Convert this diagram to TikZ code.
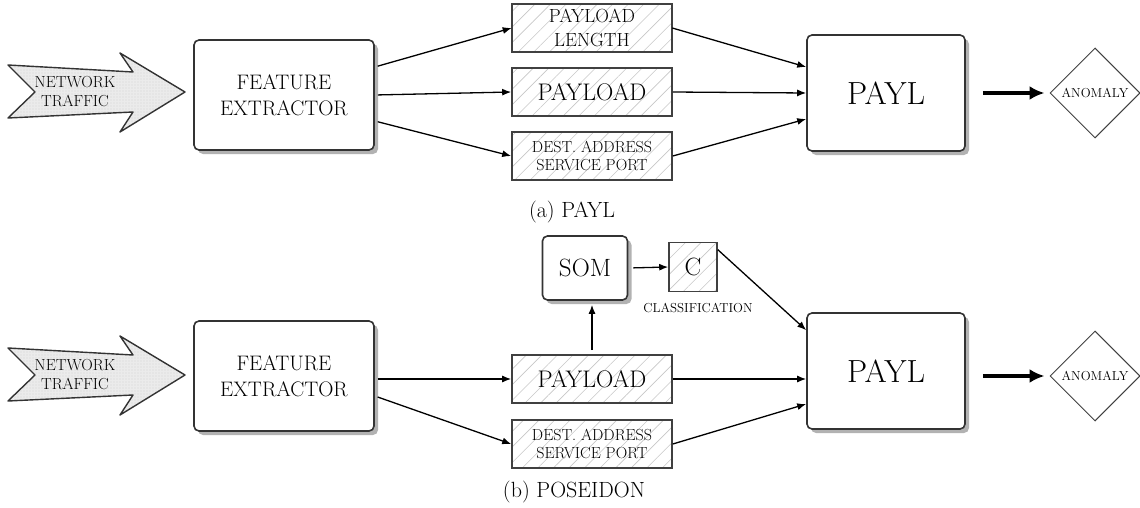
\documentclass[tikz,border=0pt]{standalone}
\usetikzlibrary{arrows.meta,shapes.geometric,shadows,patterns.meta}

\tikzset{
  box/.style={draw=black!80, line width=1.6pt, rounded corners=5pt, fill=white,
    drop shadow={shadow xshift=4pt, shadow yshift=-4pt, fill=black!60},
    align=center, inner sep=0pt},
  featbox/.style={box, minimum width=180pt, minimum height=110pt,
    font=\fontsize{21}{26}\selectfont},
  paylbox/.style={box, minimum width=158pt, minimum height=116pt,
    font=\fontsize{32}{36}\selectfont},
  hatchbox/.style={draw=black!75, line width=1.6pt, align=center, inner sep=0pt,
    pattern={Lines[angle=45,distance=11pt,line width=0.6pt]}, pattern color=black!22,
    minimum width=160pt, minimum height=48pt},
  anomaly/.style={diamond, draw=black!75, line width=1pt, minimum width=90pt,
    minimum height=90pt, inner sep=0pt, font=\fontsize{13}{14}\selectfont},
  traffic/.style={draw=black!80, line width=1.4pt, line join=round,
    preaction={fill=black!8}, pattern={Dots[distance=3pt,radius=0.35pt]},
    pattern color=black!35},
  conn/.style={-{Latex[length=9pt,width=7pt]}, line width=1.3pt},
  bigconn/.style={-{Latex[length=15pt,width=14pt]}, line width=3.2pt},
  caption/.style={font=\fontsize{22}{26}\selectfont}
}

\begin{document}
\begin{tikzpicture}[x=1pt,y=-1pt]
  \useasboundingbox (0,0) rectangle (1140,508);

  % (a) PAYL
  \draw[traffic] (8,65) -- (133,72) -- (120,53) -- (185,92) -- (120,132)
    -- (133,112) -- (8,118) -- (35,92) -- cycle;
  \node[align=center, font=\fontsize{16}{19}\selectfont] (net1) at (75,92) {NETWORK\\TRAFFIC};

  \node[featbox] (fe1) at (284,95) {FEATURE\\EXTRACTOR};

  \node[hatchbox, font=\fontsize{19}{24}\selectfont] (len1) at (592,28) {PAYLOAD\\LENGTH};
  \node[hatchbox, font=\fontsize{24}{26}\selectfont] (pay1) at (592,92) {PAYLOAD};
  \node[hatchbox, font=\fontsize{16}{18}\selectfont] (dst1) at (592,156) {DEST. ADDRESS\\SERVICE PORT};

  \node[paylbox] (payl1) at (886,93) {PAYL};
  \node[anomaly] (anom1) at (1095,93) {ANOMALY};

  \draw[conn, shorten <=3pt] ([yshift=28pt]fe1.east) -- (len1.west);
  \draw[conn, shorten <=3pt] (fe1.east) -- (pay1.west);
  \draw[conn, shorten <=3pt] ([yshift=-26pt]fe1.east) -- (dst1.west);
  \draw[conn] (len1.east) -- ([yshift=26pt]payl1.west);
  \draw[conn] (pay1.east) -- (payl1.west);
  \draw[conn] (dst1.east) -- ([yshift=-26pt]payl1.west);
  \draw[bigconn, shorten <=17pt, shorten >=5pt] (payl1.east) -- (anom1.west);

  \node[caption] (capa) at (572,212) {(a) PAYL};

  % (b) POSEIDON
  \draw[traffic] (8,348) -- (133,355) -- (120,336) -- (185,375) -- (120,415)
    -- (133,395) -- (8,401) -- (35,375) -- cycle;
  \node[align=center, font=\fontsize{16}{19}\selectfont] (net2) at (75,375) {NETWORK\\TRAFFIC};

  \node[featbox] (fe2) at (284,376) {FEATURE\\EXTRACTOR};

  \node[box, minimum width=85pt, minimum height=64pt,
    font=\fontsize{25}{27}\selectfont] (som) at (585,268) {SOM};
  \node[hatchbox, minimum width=48pt, minimum height=49pt,
    font=\fontsize{25}{27}\selectfont] (cls) at (693,267) {C};
  \node[font=\fontsize{13}{14}\selectfont] (clstxt) at (698,308) {CLASSIFICATION};

  \node[hatchbox, font=\fontsize{24}{26}\selectfont] (pay2) at (592,379) {PAYLOAD};
  \node[hatchbox, font=\fontsize{16}{18}\selectfont] (dst2) at (592,444) {DEST. ADDRESS\\SERVICE PORT};

  \node[paylbox] (payl2) at (886,371) {PAYL};
  \node[anomaly] (anom2) at (1095,376) {ANOMALY};

  \draw[conn, shorten <=3pt] (fe2.east |- pay2.west) -- (pay2.west);
  \draw[conn, shorten <=3pt] ([yshift=-20pt]fe2.east) -- (dst2.west);
  \draw[conn, shorten <=4pt, shorten >=4pt] (pay2.north) -- (pay2.north |- som.south);
  \draw[conn, shorten <=5pt] (som.east) -- (cls.west);
  \draw[conn] ([yshift=-8pt]cls.north east) -- ([yshift=-18pt]payl2.north west);
  \draw[conn] (pay2.east) -- (payl2.west |- pay2.east);
  \draw[conn] (dst2.east) -- ([yshift=-33pt]payl2.west);
  \draw[bigconn, shorten <=17pt, shorten >=5pt] (payl2.east |- anom2.west) -- (anom2.west);

  \node[caption] (capb) at (574,492) {(b) POSEIDON};
\end{tikzpicture}
\end{document}
